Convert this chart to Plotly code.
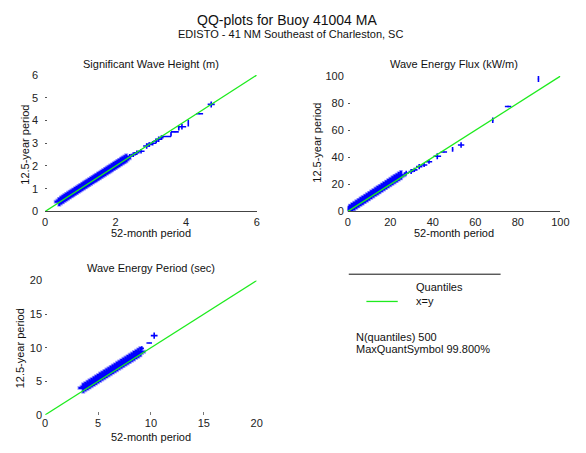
import plotly.graph_objects as go

W, H = 586, 453

# ---------------- data ----------------
# Panel 1: Significant Wave Height (m)
hs_band_x = [0.40, 0.45, 0.50, 0.55, 0.60, 0.65, 0.70, 0.75, 0.80, 0.85, 0.90, 0.95, 1.00,
             1.05, 1.10, 1.15, 1.20, 1.25, 1.30, 1.35, 1.40, 1.45, 1.50, 1.55, 1.60, 1.65,
             1.70, 1.75, 1.80, 1.85, 1.90, 1.95, 2.00, 2.05, 2.10, 2.15, 2.20, 2.25, 2.30]
hs_band_y = [0.42, 0.48, 0.53, 0.59, 0.64, 0.69, 0.74, 0.79, 0.84, 0.89, 0.94, 0.99, 1.04,
             1.09, 1.14, 1.19, 1.24, 1.29, 1.34, 1.39, 1.44, 1.49, 1.54, 1.59, 1.64, 1.69,
             1.74, 1.79, 1.84, 1.89, 1.94, 1.99, 2.04, 2.09, 2.14, 2.19, 2.24, 2.29, 2.34]
hs_tail_x = [2.40, 2.50, 2.60, 2.72, 2.88, 2.95, 3.05, 3.15, 3.22, 3.30, 3.44, 3.57, 3.68, 3.79, 3.88, 4.06, 4.38, 4.71]
hs_tail_y = [2.43, 2.50, 2.58, 2.65, 2.88, 2.95, 3.00, 3.10, 3.18, 3.25, 3.30, 3.40, 3.50, 3.66, 3.73, 3.89, 4.30, 4.71]
hs_tail_ex = [0.08, 0.08, 0.08, 0.10, 0.10, 0.08, 0.10, 0.08, 0.10, 0.06, 0.13, 0.01, 0.11, 0.01, 0.12, 0.01, 0.10, 0.10]
hs_tail_ey = [0.10, 0.10, 0.10, 0.10, 0.12, 0.10, 0.10, 0.10, 0.12, 0.10, 0.02, 0.10, 0.02, 0.10, 0.12, 0.15, 0.02, 0.13]

# Panel 2: Wave Energy Flux (kW/m)
fx_band_x = [0, 1, 2, 3, 4, 5, 6, 7, 8, 9, 10, 11, 12, 13, 14, 15, 16, 17, 18, 19, 20, 21, 22, 23, 24, 25]
fx_band_y = [0.8, 1.9, 3.0, 4.0, 5.1, 6.1, 7.2, 8.2, 9.3, 10.3, 11.3, 12.4, 13.4, 14.5, 15.5,
             16.5, 17.6, 18.6, 19.6, 20.7, 21.7, 22.8, 23.8, 24.8, 25.9, 26.8]
fx_tail_x = [27.5, 29.8, 31.3, 33.6, 35.9, 38.2, 42.1, 45.2, 49.3, 53.3, 68.2, 75.4, 89.7]
fx_tail_y = [28.3, 29.5, 30.7, 33.1, 34.3, 36.7, 40.8, 43.9, 45.8, 49.1, 67.4, 77.5, 97.8]
fx_tail_ex = [1.2, 1.2, 1.5, 1.5, 1.5, 1.5, 1.8, 1.5, 0.3, 1.5, 0.3, 1.5, 0.3]
fx_tail_ey = [1.8, 1.8, 1.5, 2.0, 1.5, 1.5, 2.2, 0.3, 1.8, 2.0, 2.0, 0.6, 2.2]

# Panel 3: Wave Energy Period (sec)
tp_band_x = [3.6, 3.8, 4.0, 4.2, 4.4, 4.6, 4.8, 5.0, 5.2, 5.4, 5.6, 5.8, 6.0, 6.2, 6.4,
             6.6, 6.8, 7.0, 7.2, 7.4, 7.6, 7.8, 8.0, 8.2, 8.4, 8.6, 8.8, 9.0]
tp_band_y = [4.0, 4.2, 4.4, 4.6, 4.8, 5.0, 5.2, 5.4, 5.6, 5.8, 6.0, 6.2, 6.4, 6.6, 6.8,
             7.0, 7.2, 7.4, 7.6, 7.8, 8.0, 8.2, 8.4, 8.6, 8.8, 9.0, 9.2, 9.4]
tp_tail_x = [9.14, 9.84, 10.31]
tp_tail_y = [9.90, 10.70, 11.80]
tp_tail_ex = [0.20, 0.26, 0.32]
tp_tail_ey = [0.30, 0.05, 0.48]

# ---------------- layout helpers ----------------
BLUE = "rgb(0,0,255)"
GREEN = "rgb(30,235,30)"
FONT = "Liberation Sans, Arial, sans-serif"


def dx(a, b):
    return [a / W, b / W]


def dy(top, bottom):
    return [1 - bottom / H, 1 - top / H]


fig = go.Figure()

panels = [
    ("x", "y", hs_band_x, hs_band_y, 0.13, 0.18, hs_tail_x, hs_tail_y, hs_tail_ex, hs_tail_ey, 6),
    ("x2", "y2", fx_band_x, fx_band_y, 2.2, 3.2, fx_tail_x, fx_tail_y, fx_tail_ex, fx_tail_ey, 100),
    ("x3", "y3", tp_band_x, tp_band_y, 0.45, 0.7, tp_tail_x, tp_tail_y, tp_tail_ex, tp_tail_ey, 20),
]

NOMARK = dict(size=1, color=BLUE, opacity=0)

for xa, ya, bx, by, bex, bey, tx, ty, tex, tey, mx in panels:
    # band halo
    fig.add_trace(go.Scatter(
        x=bx, y=by, mode="markers", marker=NOMARK,
        error_x=dict(type="constant", value=bex * 1.2, width=0, thickness=4, color="rgba(90,90,255,0.55)"),
        error_y=dict(type="constant", value=bey * 1.2, width=0, thickness=4, color="rgba(90,90,255,0.55)"),
        xaxis=xa, yaxis=ya, showlegend=False, hoverinfo="skip"))
    # band core
    fig.add_trace(go.Scatter(
        x=bx, y=by, mode="markers", marker=NOMARK,
        error_x=dict(type="constant", value=bex, width=0, thickness=2, color=BLUE),
        error_y=dict(type="constant", value=bey, width=0, thickness=2, color=BLUE),
        xaxis=xa, yaxis=ya, showlegend=False, hoverinfo="skip"))
    # tail quantile symbols
    fig.add_trace(go.Scatter(
        x=tx, y=ty, mode="markers", marker=NOMARK,
        error_x=dict(type="data", array=tex, width=0, thickness=1.6, color=BLUE),
        error_y=dict(type="data", array=tey, width=0, thickness=1.6, color=BLUE),
        xaxis=xa, yaxis=ya, showlegend=False, hoverinfo="skip"))
    # x = y line
    fig.add_trace(go.Scatter(
        x=[0, mx], y=[0, mx], mode="lines", line=dict(color=GREEN, width=1.3),
        xaxis=xa, yaxis=ya, showlegend=False, hoverinfo="skip"))

tick_font = dict(family=FONT, size=11, color="#222")

common_x = dict(showgrid=False, zeroline=False, tickfont=tick_font, fixedrange=True)
common_y = dict(showgrid=False, zeroline=False, tickfont=tick_font, ticks="inside", ticklen=2,
                tickcolor="#555", tickwidth=1, showline=False, fixedrange=True)

fig.update_layout(
    width=W, height=H,
    margin=dict(l=0, r=0, t=0, b=0),
    paper_bgcolor="white", plot_bgcolor="white",
    font=dict(family=FONT, size=11, color="#222"),
    xaxis=dict(domain=dx(43, 259), range=[0, 6], tickvals=[0, 2, 4, 6], anchor="y", ticks="",
               showline=True, linecolor="#444", linewidth=1.3, **common_x),
    yaxis=dict(domain=dy(71, 211), range=[0, 6], tickvals=[0, 1, 2, 3, 4, 5, 6], anchor="x",
               ticklabelstandoff=6, **common_y),
    xaxis2=dict(domain=dx(352, 569), range=[0, 100], tickvals=[0, 20, 40, 60, 80, 100], anchor="y2", ticks="",
                showline=True, linecolor="#444", linewidth=1.3, **common_x),
    yaxis2=dict(domain=dy(72, 211), range=[0, 100], tickvals=[0, 20, 40, 60, 80, 100], anchor="x2",
                ticklabelstandoff=3, **common_y),
    xaxis3=dict(domain=dx(43, 259), range=[0, 20], tickvals=[0, 5, 10, 15, 20], anchor="y3",
                ticks="inside", ticklen=3, tickcolor="#777", showline=False, **common_x),
    yaxis3=dict(domain=dy(282, 420), range=[0, 20], tickvals=[0, 5, 10, 15, 20], anchor="x3",
                ticklabelstandoff=2, **common_y),
)


def txt(x, y, s, size=11, xanchor="center", angle=0):
    fig.add_annotation(x=x / W, y=1 - y / H, xref="paper", yref="paper", text=s, showarrow=False,
                       xanchor=xanchor, yanchor="middle", textangle=angle,
                       font=dict(family=FONT, size=size, color="#111"))


# titles
txt(290, 14, "QQ-plots for Buoy 41004 MA", size=14)
txt(293, 28.5, "EDISTO - 41 NM Southeast of Charleston, SC", size=11)

# subplot titles
txt(151, 60, "Significant Wave Height (m)")
txt(460, 60, "Wave Energy Flux (kW/m)")
txt(151, 269, "Wave Energy Period (sec)")

# axis titles
txt(151, 233, "52-month period")
txt(460, 233, "52-month period")
txt(151, 443, "52-month period")
txt(23, 143, "12.5-year period", angle=-90)
txt(321, 140, "12.5-year period", angle=-90)
txt(17, 352, "12.5-year period", angle=-90)

# legend block
fig.add_shape(type="line", xref="paper", yref="paper", x0=353 / W, x1=508 / W,
              y0=1 - 275.5 / H, y1=1 - 275.5 / H, line=dict(color="#111", width=1))
fig.add_shape(type="line", xref="paper", yref="paper", x0=371 / W, x1=403 / W,
              y0=1 - 303.5 / H, y1=1 - 303.5 / H, line=dict(color=GREEN, width=1.3))
txt(420, 289, "Quantiles", xanchor="left")
txt(420, 303.5, "x=y", xanchor="left")
txt(358, 340, "N(quantiles) 500", xanchor="left")
txt(358, 352, "MaxQuantSymbol 99.800%", xanchor="left")

fig.write_html("out.html", config={"displayModeBar": False},
               post_script="document.body.style.margin='0';document.body.style.overflow='hidden';")
